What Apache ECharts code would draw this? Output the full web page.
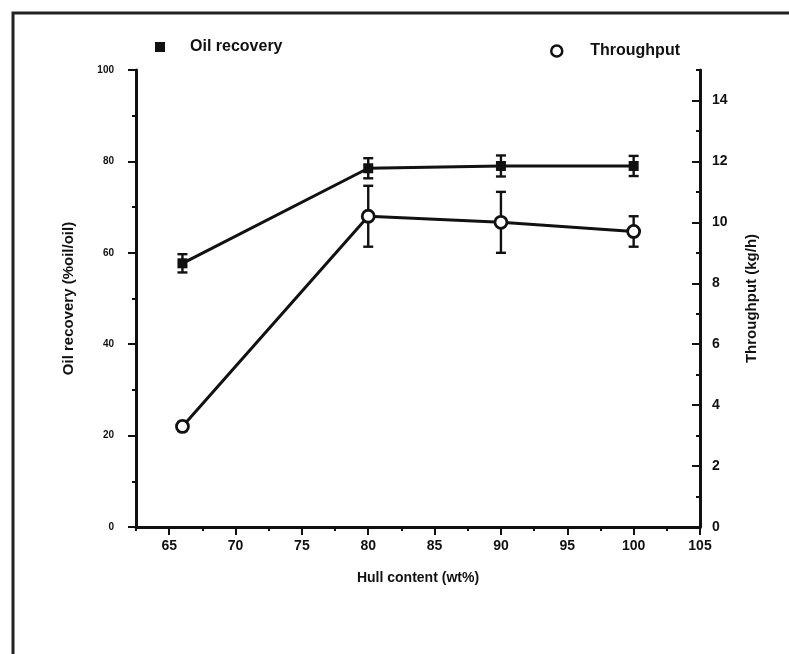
<!DOCTYPE html>
<html>
<head>
<meta charset="utf-8">
<script src="https://cdn.jsdelivr.net/npm/echarts@6/dist/echarts.min.js"></script>
<style>
  html, body { margin: 0; padding: 0; background: #fff; }
  #chart { width: 789px; height: 654px; }
</style>
</head>
<body>
<div id="chart"></div>
<script>
// hull content (wt%) of each sample
const hullContent = [66, 80, 90, 100];
// oil recovery (%oil/oil) and its error
const oilRecovery = [57.7, 78.5, 79.0, 79.0];
const oilRecoveryErr = [2.0, 2.2, 2.3, 2.2];
// throughput (kg/h) and its error
const throughput = [3.3, 10.2, 10.0, 9.7];
const throughputErr = [0.15, 1.0, 1.0, 0.5];

// axis ticks
const xMajorTicks = [65, 70, 75, 80, 85, 90, 95, 100, 105];
const xMinorTicks = [62.5, 67.5, 72.5, 77.5, 82.5, 87.5, 92.5, 97.5, 102.5];
const rightMajorTicks = [0, 2, 4, 6, 8, 10, 12, 14];
const rightMinorTicks = [1, 3, 5, 7, 9, 11, 13, 15];

const ink = "#111";
const font = "Liberation Sans, Arial, sans-serif";

const chart = echarts.init(document.getElementById("chart"), null, { renderer: "canvas" });

function errorBars(means, errs) {
  return hullContent.map((x, i) => [x, means[i] - errs[i], means[i] + errs[i]]);
}

function renderErrorBar(params, api) {
  const x = api.value(0);
  const lo = api.coord([x, api.value(1)]);
  const hi = api.coord([x, api.value(2)]);
  const hw = 5;
  const style = { stroke: ink, lineWidth: 2.4 };
  return {
    type: "group",
    children: [
      { type: "line", shape: { x1: lo[0], y1: lo[1], x2: hi[0], y2: hi[1] }, style },
      { type: "line", shape: { x1: lo[0] - hw, y1: lo[1], x2: lo[0] + hw, y2: lo[1] }, style },
      { type: "line", shape: { x1: hi[0] - hw, y1: hi[1], x2: hi[0] + hw, y2: hi[1] }, style },
    ],
  };
}

const tickLabel = (size) => ({ color: ink, fontFamily: font, fontWeight: "bold", fontSize: size });

const option = {
  animation: false,
  backgroundColor: "#fff",
  textStyle: { fontFamily: font, color: ink },
  grid: { left: 136, right: 89, top: 70, bottom: 127, containLabel: false },
  legend: [
    {
      left: 150, top: 34,
      itemWidth: 10, itemHeight: 10,
      data: [{ name: "Oil recovery", icon: "rect", itemStyle: { color: ink, borderWidth: 0 } }],
      textStyle: { color: ink, fontWeight: "bold", fontSize: 16, fontFamily: font, padding: [0, 0, 0, 20] },
    },
    {
      left: 545, top: 38,
      itemWidth: 11, itemHeight: 11,
      data: [{ name: "Throughput", icon: "circle", itemStyle: { color: "#fff", borderColor: ink, borderWidth: 2.5 } }],
      textStyle: { color: ink, fontWeight: "bold", fontSize: 16, fontFamily: font, padding: [0, 0, 0, 23] },
    },
  ],
  xAxis: [
    {
      type: "value", min: 62.5, max: 105,
      name: "Hull content (wt%)", nameLocation: "middle", nameGap: 44,
      nameTextStyle: { color: ink, fontWeight: "bold", fontSize: 14, fontFamily: font },
      axisLine: { show: true, lineStyle: { color: ink, width: 3 } },
      axisTick: { show: true, length: 8, lineStyle: { color: ink, width: 2 }, customValues: xMajorTicks },
      axisLabel: Object.assign(tickLabel(14), { margin: 12, customValues: xMajorTicks }),
      splitLine: { show: false },
    },
    {
      type: "value", min: 62.5, max: 105, position: "bottom",
      axisLine: { show: false },
      axisTick: { show: true, length: 4, lineStyle: { color: ink, width: 2 }, customValues: xMinorTicks },
      axisLabel: { show: false },
      splitLine: { show: false },
    },
  ],
  yAxis: [
    {
      type: "value", min: 0, max: 100, interval: 20, position: "left",
      name: "Oil recovery (%oil/oil)", nameLocation: "middle", nameGap: 60, nameRotate: 90,
      nameTextStyle: { color: ink, fontWeight: "bold", fontSize: 15, fontFamily: font },
      axisLine: { show: true, lineStyle: { color: ink, width: 3 } },
      axisTick: { show: true, length: 8, lineStyle: { color: ink, width: 2 } },
      minorTick: { show: true, splitNumber: 2, length: 4, lineStyle: { color: ink, width: 2 } },
      axisLabel: Object.assign(tickLabel(10), { margin: 22 }),
      splitLine: { show: false },
      minorSplitLine: { show: false },
    },
    {
      type: "value", min: 0, max: 15, position: "right",
      name: "Throughput (kg/h)", nameLocation: "middle", nameGap: 44, nameRotate: 90,
      nameTextStyle: { color: ink, fontWeight: "bold", fontSize: 15, fontFamily: font },
      axisLine: { show: true, lineStyle: { color: ink, width: 3 } },
      axisTick: { show: true, inside: true, length: 8, lineStyle: { color: ink, width: 2 }, customValues: rightMajorTicks },
      axisLabel: Object.assign(tickLabel(14), { margin: 12, customValues: rightMajorTicks }),
      splitLine: { show: false },
    },
    {
      type: "value", min: 0, max: 15, position: "right",
      axisLine: { show: false },
      axisTick: { show: true, inside: true, length: 4, lineStyle: { color: ink, width: 2 }, customValues: rightMinorTicks },
      axisLabel: { show: false },
      splitLine: { show: false },
    },
  ],
  series: [
    {
      type: "custom", xAxisIndex: 0, yAxisIndex: 0, z: 1,
      renderItem: renderErrorBar,
      data: errorBars(oilRecovery, oilRecoveryErr),
    },
    {
      type: "custom", xAxisIndex: 0, yAxisIndex: 1, z: 1,
      renderItem: renderErrorBar,
      data: errorBars(throughput, throughputErr),
    },
    {
      name: "Oil recovery", type: "line", xAxisIndex: 0, yAxisIndex: 0, z: 3,
      data: hullContent.map((x, i) => [x, oilRecovery[i]]),
      symbol: "rect", symbolSize: 10,
      lineStyle: { color: ink, width: 3 },
      itemStyle: { color: ink, borderWidth: 0 },
    },
    {
      name: "Throughput", type: "line", xAxisIndex: 0, yAxisIndex: 1, z: 3,
      data: hullContent.map((x, i) => [x, throughput[i]]),
      symbol: "circle", symbolSize: 12,
      lineStyle: { color: ink, width: 3 },
      itemStyle: { color: "#fff", borderColor: ink, borderWidth: 2.8 },
    },
  ],
  graphic: [
    {
      type: "polyline", silent: true,
      shape: { points: [[13, 654], [13, 13], [789, 13]] },
      style: { stroke: "#222", lineWidth: 3, fill: null },
    },
  ],
};

chart.setOption(option);

window.addEventListener("resize", () => {
  chart.resize();
});
</script>
</body>
</html>
